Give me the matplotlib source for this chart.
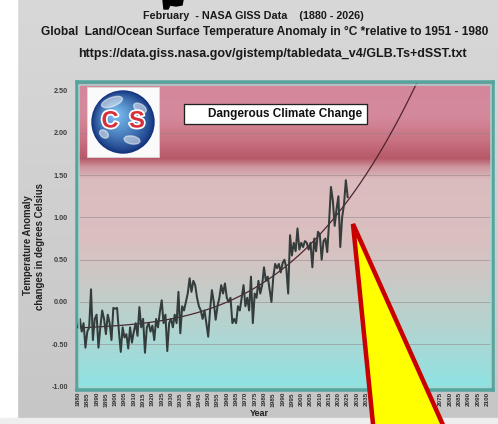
import numpy as np
import matplotlib
matplotlib.use('Agg')
import matplotlib.pyplot as plt
from matplotlib import font_manager
from matplotlib.patches import Rectangle, Polygon, Circle, Ellipse
import matplotlib.patheffects as pe

# ---------------- data ----------------
start_year = 1880
feb_anomaly = [
    -0.30, -0.20, -0.35, -0.25, -0.54, -0.35, -0.30, 0.15, -0.45, -0.20,   # 1880s
    -0.15, -0.54, -0.30, -0.10, -0.20, -0.38, -0.15, -0.25, -0.45, -0.07,  # 1890s
    -0.08, -0.07, -0.35, -0.59, -0.30, -0.42, -0.38, -0.55, -0.30, -0.48,  # 1900s
    -0.35, -0.25, -0.40, -0.06, -0.30, -0.20, -0.60, -0.30, -0.25, -0.35,  # 1910s
    -0.28, -0.45, -0.20, -0.30, -0.12, 0.02, -0.25, -0.15, -0.58, -0.25,   # 1920s
    -0.20, -0.30, -0.15, -0.25, 0.12, -0.37, -0.05, -0.10, 0.00, 0.10,     # 1930s
    0.28, 0.12, 0.25, 0.20, 0.05, -0.05, -0.10, -0.20, -0.10, -0.25,       # 1940s
    -0.41, -0.10, 0.14, 0.00, -0.21, -0.05, 0.05, 0.20, 0.10, 0.22,        # 1950s
    0.05, 0.00, 0.05, -0.25, -0.20, -0.25, -0.05, -0.10, 0.05, 0.20,       # 1960s
    -0.05, 0.05, -0.10, 0.30, -0.25, 0.10, 0.05, 0.25, 0.10, 0.20,         # 1970s
    0.41, 0.25, 0.30, 0.15, 0.00, 0.30, 0.45, 0.40, 0.45, 0.35,            # 1980s
    0.46, 0.50, 0.40, 0.10, 0.79, 0.55, 0.70, 0.60, 0.87, 0.62,            # 1990s
    0.70, 0.65, 0.72, 0.70, 0.62, 0.70, 0.41, 0.75, 0.60, 0.83,            # 2000s
    0.80, 0.50, 0.72, 0.75, 0.59, 0.95, 1.36, 1.20, 0.90, 1.10,            # 2010s
    1.25, 0.65, 1.00, 1.15, 1.44, 1.24,                                    # 2020s
]
years = np.arange(start_year, start_year + len(feb_anomaly))
trend_order = 3
trend_years = np.arange(1880, 2101)
tick_years = list(range(1880, 2101, 5))
y_ticks = [-1.0, -0.5, 0.0, 0.5, 1.0, 1.5, 2.0, 2.5]

title1 = "February  - NASA GISS Data    (1880 - 2026)"
title2 = "Global  Land/Ocean Surface Temperature Anomaly in \u00b0C *relative to 1951 - 1980"
url_text = "https://data.giss.nasa.gov/gistemp/tabledata_v4/GLB.Ts+dSST.txt"
box_text = "Dangerous Climate Change"
ylabel1 = "Temperature Anomaly"
ylabel2 = "changes in degrees Celsius"
xlabel = "Year"

# ---------------- setup ----------------
W, H, DPI = 498, 424, 100
names = {f.name for f in font_manager.fontManager.ttflist}
NARROW = 'Liberation Sans Narrow' if 'Liberation Sans Narrow' in names else 'Liberation Sans'
SANS = 'Liberation Sans'

fig = plt.figure(figsize=(W / DPI, H / DPI), dpi=DPI)
fig.patch.set_facecolor('#d0d0d0')
renderer = fig.canvas.get_renderer()

def rect_px(x0, y0, x1, y1):
    return [x0 / W, 1 - y1 / H, (x1 - x0) / W, (y1 - y0) / H]

def pts(p):
    return p * 72.0 / DPI

def fit(t, target, vertical=False):
    bb = t.get_window_extent(renderer)
    cur = bb.height if vertical else bb.width
    t.set_fontsize(t.get_fontsize() * target / cur)

# background layer
bg = fig.add_axes([0, 0, 1, 1], zorder=-10)
bg.set_xlim(0, W); bg.set_ylim(H, 0); bg.axis('off')
g = np.linspace(216, 198, 256) / 255.0
bg.imshow(np.dstack([g, g, g]).reshape(256, 1, 3), extent=[0, W, H, 0],
          aspect='auto', zorder=0)
bg.add_patch(Rectangle((0, 0), 17, H, color='white', zorder=1))
bg.add_patch(Rectangle((0, 418), W, 6, color='#eeeeee', zorder=1))
bg.add_patch(Polygon([(163, 0), (183, 0), (182, 5), (176, 6), (170, 5), (168, 9),
                      (164, 9)], closed=True, color='black', zorder=2))

# ---------------- main axes ----------------
ax = fig.add_axes(rect_px(77, 82, 493, 390), zorder=1)
x0 = 1880 - 1 / 1.86
x1 = 1880 + 415 / 1.86
y0 = (302 - 390) / 84.57
y1 = (302 - 82) / 84.57
ax.set_xlim(x0, x1)
ax.set_ylim(y0, y1)

# gradient background in value space
stops_v = [y0, -0.3, 0.2, 0.7, 1.45, 1.60, 1.70, 1.90, 2.20, y1]
stops_c = np.array([
    (140, 228, 228), (180, 212, 208), (200, 202, 198), (218, 192, 192),
    (220, 188, 190), (205, 150, 158), (182, 88, 104), (200, 112, 128),
    (212, 138, 156), (212, 134, 154)]) / 255.0
vv = np.linspace(y1, y0, 400)
img = np.stack([np.interp(vv, stops_v, stops_c[:, k]) for k in range(3)], axis=-1)
ax.imshow(img[:, None, :], extent=[x0, x1, y0, y1], aspect='auto', zorder=0,
          interpolation='bilinear')

for v in y_ticks[1:-1]:
    ax.axhline(v, color='#8f8282', lw=0.6, alpha=0.6, zorder=1)

coefs = np.polyfit(years, feb_anomaly, trend_order)
ax.plot(trend_years, np.polyval(coefs, trend_years), color='#50252e', lw=0.9, zorder=2)
ax.plot(years, feb_anomaly, color='#343c3c', lw=1.45, zorder=3)

for s in ax.spines.values():
    s.set_color('#56a49e')
    s.set_linewidth(pts(3.5))
ax.add_patch(Rectangle((0.006, 0.01), 0.988, 0.98, transform=ax.transAxes, fill=False,
                       edgecolor='#a5d6d2', lw=pts(1.5), zorder=4))

ax.set_xticks(tick_years)
ax.set_xticklabels([str(y) for y in tick_years], rotation=90, fontsize=4.6,
                   fontweight='bold', color='#303030', family=SANS)
ax.set_yticks(y_ticks)
ax.set_yticklabels(['%.2f' % v for v in y_ticks], fontsize=5.2, fontweight='bold',
                   color='#404040', family=SANS)
ax.tick_params(axis='both', length=0)
ax.tick_params(axis='x', pad=1.5)
ax.tick_params(axis='y', pad=6.5)

# ---------------- texts ----------------
t = fig.text(253 / W, 1 - 16 / H, title1, ha='center', va='center', family=NARROW,
             fontweight='bold', fontsize=9, color='#1a1a1a')
fit(t, 220)
t = fig.text(265 / W, 1 - 32 / H, title2, ha='center', va='center', family=NARROW,
             fontweight='bold', fontsize=9, color='#1a1a1a')
fit(t, 446)
t = fig.text(272 / W, 1 - 54 / H, url_text, ha='center', va='center', family=NARROW,
             fontweight='bold', fontsize=9, color='#1a1a1a')
fit(t, 389)
t = fig.text(28 / W, 1 - 245 / H, ylabel1, ha='center', va='center', rotation=90,
             family=SANS, fontweight='bold', fontsize=7, color='#202020')
fit(t, 100, vertical=True)
t = fig.text(40 / W, 1 - 247 / H, ylabel2, ha='center', va='center', rotation=90,
             family=SANS, fontweight='bold', fontsize=7, color='#202020')
fit(t, 127, vertical=True)
t = fig.text(259 / W, 1 - 414 / H, xlabel, ha='center', va='center', family=SANS,
             fontweight='bold', fontsize=6.5, color='#202020')

# ---------------- foreground overlays ----------------
fg = fig.add_axes([0, 0, 1, 1], zorder=10)
fg.set_xlim(0, W); fg.set_ylim(H, 0); fg.axis('off')
fg.patch.set_alpha(0)

# logo
fg.add_patch(Rectangle((87, 87), 72, 70, facecolor='#fafafa', edgecolor='#dddddd',
                       lw=0.5, zorder=1))
cx, cy, R = 123, 122, 31
edge = np.array([18, 50, 125]) / 255.0
centre = np.array([120, 190, 240]) / 255.0
for i, r in enumerate(np.linspace(R, 2, 30)):
    f = (i / 29.0) ** 0.8
    c = edge * (1 - f) + centre * f
    off = (1 - r / R) * 9
    fg.add_patch(Circle((cx - off, cy - off), r, color=c, zorder=2))
for (ex, ey, ew, eh, ang) in [(112, 102, 22, 9, -20), (140, 108, 14, 8, 30),
                               (132, 140, 16, 8, 10), (104, 134, 10, 7, 40)]:
    fg.add_patch(Ellipse((ex, ey), ew, eh, angle=ang, color='white', alpha=0.5, zorder=3))
for ch, xx in (('C', 110), ('S', 137)):
    fg.text(xx, 121, ch, ha='center', va='center', fontsize=17, fontweight='bold',
            family=SANS, color='#d8303a', zorder=4,
            path_effects=[pe.withStroke(linewidth=2.5, foreground='white')])

# text box
fg.add_patch(Rectangle((184, 104), 183, 20, facecolor='white', edgecolor='#202020',
                       lw=pts(1.3), zorder=1))
t = fg.text(285, 114.5, box_text, ha='center', va='center', family=NARROW,
            fontweight='bold', fontsize=8, color='#111111', zorder=2)
fit(t, 154)

# yellow wedge annotation
fg.add_patch(Polygon([(353, 224), (374, 434), (447, 434)], closed=True,
                     facecolor='#ffff00', edgecolor='#c80000', lw=pts(4.5),
                     joinstyle='miter', clip_on=False, zorder=5))

fig.savefig('out.png', dpi=DPI, facecolor=fig.get_facecolor())
